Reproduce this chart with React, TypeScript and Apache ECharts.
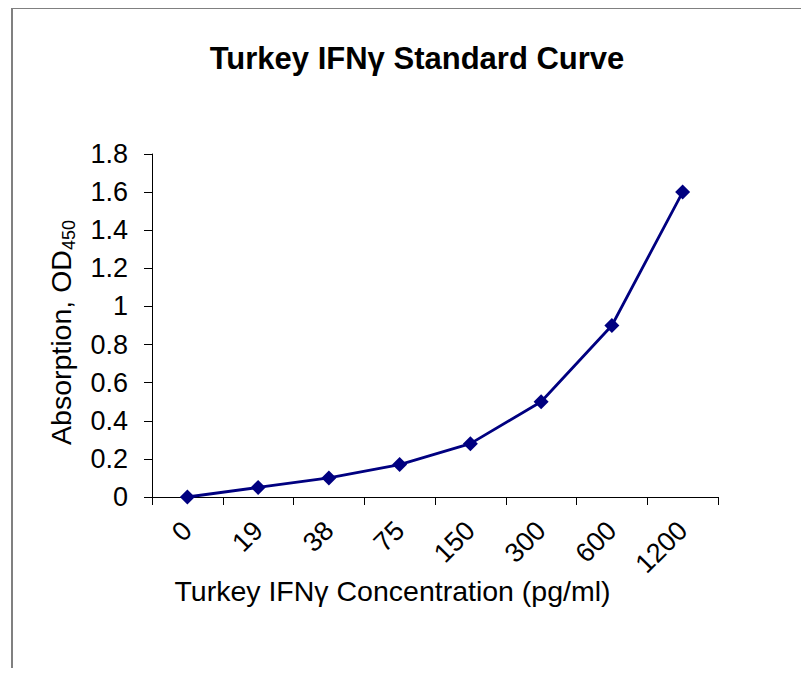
import React, { useEffect, useRef } from "react";
import * as echarts from "echarts";

const categories = ["0", "19", "38", "75", "150", "300", "600", "1200"];
const absorption = [0, 0.05, 0.1, 0.17, 0.28, 0.5, 0.9, 1.6];
const yTicks = { min: 0, max: 1.8, interval: 0.2 };

const FONT = "'Liberation Sans', Arial, sans-serif";

export default function App() {
  const ref = useRef<HTMLDivElement>(null);
  useEffect(() => {
    if (!ref.current) return;
    const chart = echarts.init(ref.current, null, { renderer: "svg" });
    chart.setOption({
      animation: false,
      backgroundColor: "#ffffff",
      textStyle: { fontFamily: FONT },
      title: {
        text: "Turkey IFNγ Standard Curve",
        left: 412,
        top: 38,
        textAlign: "center",
        textStyle: { fontFamily: FONT, fontSize: 31, fontWeight: "bold", color: "#000" },
      },
      graphic: [
        {
          type: "rect",
          shape: { x: 12, y: 8, width: 820, height: 700 },
          style: { fill: "none", stroke: "#808080", lineWidth: 2 },
          silent: true,
        },
      ],
      grid: { left: 152, right: 91, top: 154, bottom: 179, containLabel: false },
      xAxis: {
        type: "category",
        data: categories,
        boundaryGap: true,
        name: "Turkey IFNγ Concentration (pg/ml)",
        nameLocation: "middle",
        nameGap: 79,
        nameMoveOverlap: false,
        nameTextStyle: { fontFamily: FONT, fontSize: 28.5, color: "#000", padding: [0, 85, 0, 0] },
        axisLine: { lineStyle: { color: "#000", width: 1 } },
        axisTick: { show: true, alignWithLabel: false, length: 8, lineStyle: { color: "#000" } },
        axisLabel: { rotate: 45, fontFamily: FONT, fontSize: 27, color: "#000", margin: 29, interval: 0 },
        splitLine: { show: false },
      },
      yAxis: {
        type: "value",
        min: yTicks.min,
        max: yTicks.max,
        interval: yTicks.interval,
        name: "{m|Absorption, OD}{s|450}",
        nameLocation: "middle",
        nameGap: 74,
        nameRotate: 90,
        nameMoveOverlap: false,
        nameTextStyle: {
          padding: [0, 14, 0, 0],
          rich: {
            m: { fontFamily: FONT, fontSize: 28.5, color: "#000", lineHeight: 34, verticalAlign: "middle" },
            s: { fontFamily: FONT, fontSize: 18, color: "#000", lineHeight: 24, verticalAlign: "bottom" },
          },
        },
        axisLine: { show: true, lineStyle: { color: "#000", width: 1 } },
        axisTick: { show: true, length: 8, lineStyle: { color: "#000" } },
        axisLabel: {
          fontFamily: FONT,
          fontSize: 27,
          color: "#000",
          margin: 24,
          formatter: (v: number) => String(parseFloat(v.toFixed(1))),
        },
        splitLine: { show: false },
      },
      series: [
        {
          type: "line",
          data: absorption,
          lineStyle: { color: "#000080", width: 2.8 },
          itemStyle: { color: "#000080" },
          symbol: "diamond",
          symbolSize: 15,
          showSymbol: true,
        },
      ],
    });
    return () => chart.dispose();
  }, []);
  return <div ref={ref} style={{ width: 809, height: 676, margin: -8 }} />;
}
